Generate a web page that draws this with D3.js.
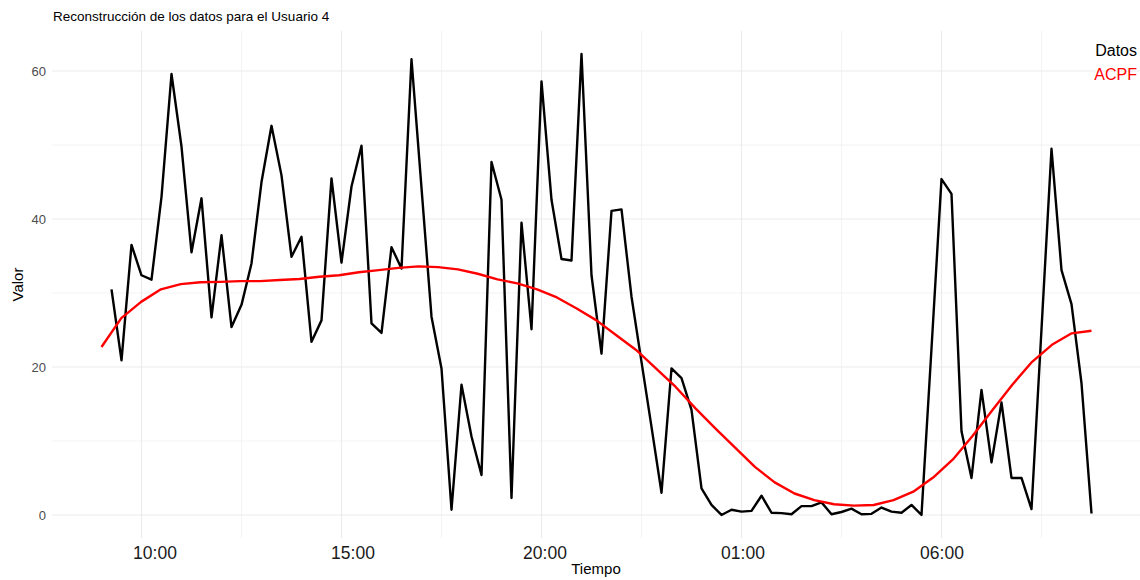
<!DOCTYPE html>
<html>
<head>
<meta charset="utf-8">
<script src="https://cdn.jsdelivr.net/npm/d3@7"></script>
<style>
  html, body { margin: 0; padding: 0; background: #fff; }
  svg { display: block; font-family: "Liberation Sans", Arial, sans-serif; }
</style>
</head>
<body>
<svg id="chart" width="1140" height="580"></svg>
<script>
// Measured user data: one reading every 15 minutes starting at 09:15
const datosStart = "2024-01-01T09:15:00";
const datosStepMin = 15;
const datosValues = [
  30.5, 20.9, 36.5, 32.4, 31.8, 43.0, 59.6, 49.8, 35.5, 42.8,
  26.7, 37.8, 25.4, 28.4, 34.0, 45.0, 52.6, 45.9, 34.9, 37.6,
  23.4, 26.3, 45.5, 34.1, 44.4, 49.9, 25.9, 24.6, 36.2, 33.3,
  61.6, 44.2, 26.8, 19.8, 0.7, 17.6, 10.6, 5.4, 47.7, 42.6,
  2.3, 39.5, 25.1, 58.6, 42.6, 34.6, 34.4, 62.3, 32.4, 21.8,
  41.1, 41.3, 29.5, 20.7, 11.9, 3.0, 19.8, 18.5, 14.2, 3.6,
  1.35, 0.0, 0.7, 0.45, 0.55, 2.6, 0.3, 0.25, 0.1, 1.2,
  1.2, 1.7, 0.1, 0.4, 0.85, 0.1, 0.15, 1.0, 0.45, 0.3,
  1.35, 0.0, 22.5, 45.4, 43.4, 11.3, 5.0, 16.9, 7.1, 15.2,
  5.0, 5.0, 0.8, 25.1, 49.5, 33.1, 28.5, 17.8, 0.2
];

// ACPF reconstruction: evenly spaced samples between these two instants
const acpfStart = "2024-01-01T09:00:00";
const acpfEnd = "2024-01-02T09:45:00";
const acpfValues = [
  22.7, 26.6, 28.8, 30.5, 31.2, 31.45, 31.5, 31.6, 31.6, 31.75,
  31.9, 32.2, 32.4, 32.8, 33.1, 33.4, 33.6, 33.5, 33.2, 32.6,
  31.85, 31.3, 30.5, 29.4, 27.9, 26.3, 24.3, 22.3, 19.8, 17.3,
  14.4, 11.7, 9.1, 6.5, 4.4, 2.9, 2.0, 1.45, 1.26, 1.35,
  2.0, 3.15, 5.05, 7.5, 10.7, 14.2, 17.6, 20.7, 23.0, 24.55, 24.9
];

// Axis breaks and labels
const xBreaks = ["2024-01-01T10:00:00", "2024-01-01T15:00:00", "2024-01-01T20:00:00",
                 "2024-01-02T01:00:00", "2024-01-02T06:00:00"];
const xTickLabels = ["10:00", "15:00", "20:00", "01:00", "06:00"];
const yBreaks = [0, 20, 40, 60];
const legendLabels = ["Datos", "ACPF"];
const seriesColors = ["#000000", "#ff0000"];

const parse = s => new Date(s);
const datos = datosValues.map((v, i) => ({
  t: new Date(parse(datosStart).getTime() + i * datosStepMin * 60000), v
}));
const acpfIndex = d3.scaleLinear()
  .domain([0, acpfValues.length - 1])
  .range([parse(acpfStart).getTime(), parse(acpfEnd).getTime()]);
const acpf = acpfValues.map((v, i) => ({ t: new Date(acpfIndex(i)), v }));

const svg = d3.select("#chart");
const panel = { left: 52, right: 1141, top: 31, bottom: 538 };

// Data extent expanded by 5% on each side
const allT = datos.concat(acpf).map(d => d.t.getTime());
const tMin = d3.min(allT), tMax = d3.max(allT), tPad = (tMax - tMin) * 0.05;
const allV = datosValues.concat(acpfValues);
const vMin = d3.min(allV), vMax = d3.max(allV), vPad = (vMax - vMin) * 0.05;

const x = d3.scaleTime()
  .domain([new Date(tMin - tPad), new Date(tMax + tPad)])
  .range([panel.left, panel.right]);
const y = d3.scaleLinear()
  .domain([vMin - vPad, vMax + vPad])
  .range([panel.bottom, panel.top]);

const gridColor = "#ebebeb";

// Minor grid: halfway between breaks
const xb = xBreaks.map(parse);
const xMinor = [];
for (let i = -1; i < xb.length; i++) {
  const a = i < 0 ? xb[0].getTime() - (xb[1] - xb[0]) : xb[i].getTime();
  const m = new Date(a + (xb[1] - xb[0]) / 2);
  if (m >= x.domain()[0] && m <= x.domain()[1]) xMinor.push(m);
}
const yMinor = [10, 30, 50];

const grid = svg.append("g");
grid.selectAll(".ymin").data(yMinor).join("line")
  .attr("x1", panel.left).attr("x2", panel.right)
  .attr("y1", d => y(d)).attr("y2", d => y(d))
  .attr("stroke", gridColor).attr("stroke-width", 0.6);
grid.selectAll(".xmin").data(xMinor).join("line")
  .attr("x1", d => x(d)).attr("x2", d => x(d))
  .attr("y1", panel.top).attr("y2", panel.bottom)
  .attr("stroke", gridColor).attr("stroke-width", 0.6);
grid.selectAll(".ymaj").data(yBreaks).join("line")
  .attr("x1", panel.left).attr("x2", panel.right)
  .attr("y1", d => y(d)).attr("y2", d => y(d))
  .attr("stroke", gridColor).attr("stroke-width", 1.1);
grid.selectAll(".xmaj").data(xb).join("line")
  .attr("x1", d => x(d)).attr("x2", d => x(d))
  .attr("y1", panel.top).attr("y2", panel.bottom)
  .attr("stroke", gridColor).attr("stroke-width", 1.1);

// Axes (text only, no domain lines or ticks)
const xAxis = d3.axisBottom(x).tickValues(xb)
  .tickFormat((d, i) => xTickLabels[i]).tickSize(0).tickPadding(0);
const gx = svg.append("g").attr("transform", `translate(0,${panel.bottom})`).call(xAxis);
gx.select(".domain").remove();
gx.selectAll("text")
  .attr("dy", "0").attr("y", 21)
  .attr("dx", (d, i) => [13, 11, 3, 1, 0][i])
  .attr("font-size", 17.5).attr("fill", "#1a1a1a")
  .attr("font-family", "'Liberation Sans', Arial, sans-serif");

const yAxis = d3.axisLeft(y).tickValues(yBreaks).tickSize(0).tickPadding(0);
const gy = svg.append("g").attr("transform", `translate(${panel.left - 6},0)`).call(yAxis);
gy.select(".domain").remove();
gy.selectAll("text")
  .attr("font-size", 13).attr("fill", "#4d4d4d")
  .attr("font-family", "'Liberation Sans', Arial, sans-serif");

// Series lines
const line = d3.line().x(d => x(d.t)).y(d => y(d.v));
svg.append("path").datum(datos)
  .attr("d", line).attr("fill", "none")
  .attr("stroke", seriesColors[0]).attr("stroke-width", 2.4)
  .attr("stroke-linejoin", "round");
svg.append("path").datum(acpf)
  .attr("d", line).attr("fill", "none")
  .attr("stroke", seriesColors[1]).attr("stroke-width", 2.4)
  .attr("stroke-linejoin", "round");

// Title and axis titles
svg.append("text").attr("x", 53).attr("y", 21)
  .attr("font-size", 13.5).attr("fill", "#000")
  .text("Reconstrucción de los datos para el Usuario 4");
svg.append("text").attr("x", (panel.left + 1140) / 2).attr("y", 574)
  .attr("text-anchor", "middle").attr("font-size", 15).attr("fill", "#000")
  .text("Tiempo");
svg.append("text")
  .attr("transform", `translate(23,${(panel.top + panel.bottom) / 2}) rotate(-90)`)
  .attr("text-anchor", "middle").attr("font-size", 15).attr("fill", "#000")
  .text("Valor");

// Text legend in the top-right corner
svg.selectAll(".legend").data(legendLabels).join("text")
  .attr("x", 1137).attr("y", (d, i) => 56 + i * 24)
  .attr("text-anchor", "end").attr("font-size", 16)
  .attr("fill", (d, i) => seriesColors[i])
  .text(d => d);
</script>
</body>
</html>
